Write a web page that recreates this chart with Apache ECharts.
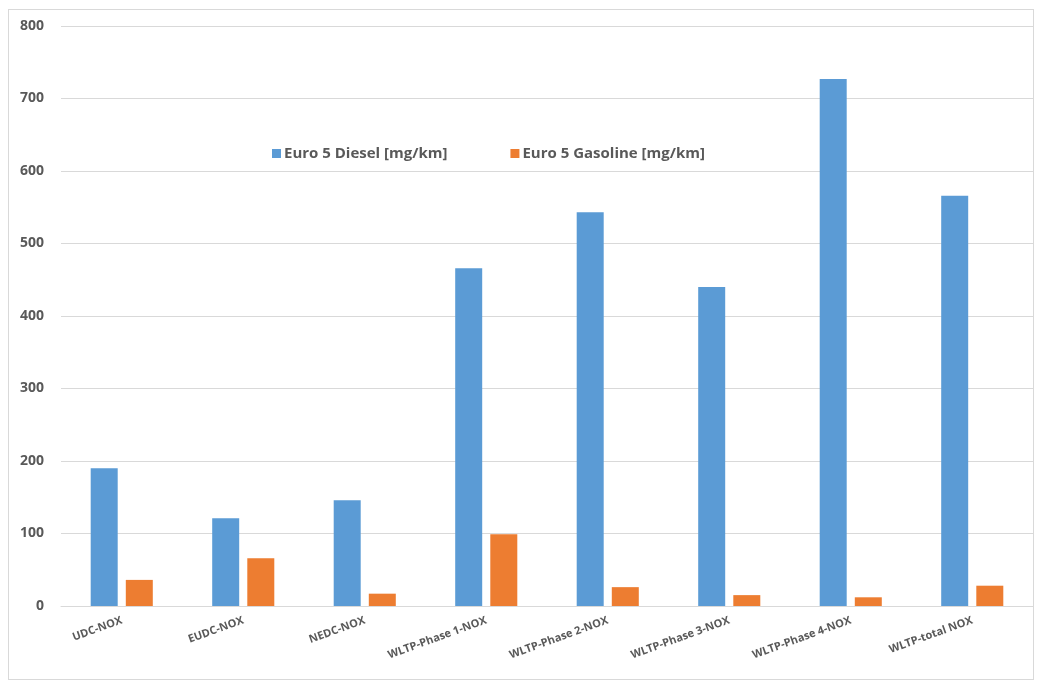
<!DOCTYPE html>
<html>
<head>
<meta charset="utf-8">
<script src="https://cdn.jsdelivr.net/npm/echarts@6/dist/echarts.min.js"></script>
<style>
  html, body { margin: 0; padding: 0; background: #fff; }
  #frame { position: absolute; left: 8px; top: 9px; width: 1026px; height: 671px; border: 1px solid #d9d9d9; box-sizing: border-box; }
  #chart { position: absolute; left: 0; top: 0; width: 1037px; height: 683px; }
</style>
</head>
<body>
<div id="frame"></div>
<div id="chart"></div>
<script>
var categories = ['UDC-NOX', 'EUDC-NOX', 'NEDC-NOX', 'WLTP-Phase 1-NOX', 'WLTP-Phase 2-NOX', 'WLTP-Phase 3-NOX', 'WLTP-Phase 4-NOX', 'WLTP-total NOX'];
var dieselValues = [190, 121, 146, 466, 543, 440, 727, 566];
var gasolineValues = [36, 66, 17, 99, 26, 15, 12, 28];
var seriesNames = ['Euro 5 Diesel [mg/km]', 'Euro 5 Gasoline [mg/km]'];

var myChart = echarts.init(document.getElementById('chart'));
var option = {
    animation: false,
    color: ['#5b9bd5', '#ed7d31'],
    legend: {
        left: 267,
        top: 141,
        itemWidth: 9,
        itemHeight: 9,
        itemGap: 63,
        icon: 'rect',
        textStyle: {
            color: '#595959',
            fontSize: 15,
            fontWeight: 'bold',
            fontFamily: 'Open Sans',
            padding: [0, 0, 0, -2]
        },
        data: seriesNames
    },
    grid: {
        left: 61,
        right: 4,
        top: 26,
        bottom: 77,
        containLabel: false
    },
    xAxis: {
        type: 'category',
        data: categories,
        axisLine: { lineStyle: { color: '#d9d9d9' } },
        axisTick: { show: false },
        axisLabel: {
            rotate: 20,
            interval: 0,
            margin: 14,
            color: '#595959',
            fontSize: 11,
            fontWeight: 'bold',
            fontFamily: 'Open Sans'
        }
    },
    yAxis: {
        type: 'value',
        min: 0,
        max: 800,
        interval: 100,
        axisLine: { show: false },
        axisTick: { show: false },
        splitLine: { lineStyle: { color: '#d9d9d9' } },
        axisLabel: {
            margin: 17,
            color: '#595959',
            fontSize: 14,
            fontWeight: 'bold',
            fontFamily: 'Open Sans'
        }
    },
    series: [
        {
            name: seriesNames[0],
            type: 'bar',
            data: dieselValues,
            barWidth: 27,
            barGap: '30%'
        },
        {
            name: seriesNames[1],
            type: 'bar',
            data: gasolineValues,
            barWidth: 27,
            barGap: '30%'
        }
    ]
};
myChart.setOption(option);
</script>
</body>
</html>
